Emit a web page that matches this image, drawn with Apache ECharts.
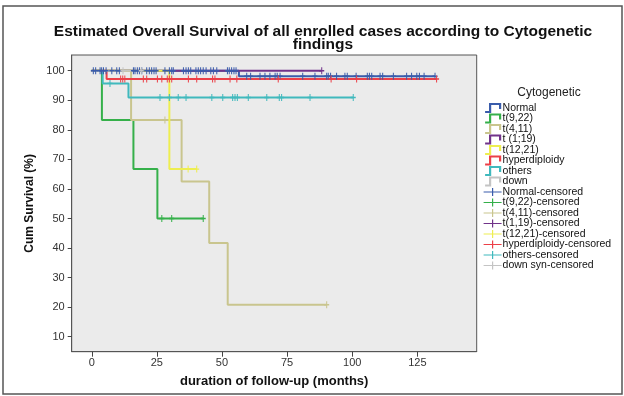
<!DOCTYPE html>
<html><head><meta charset="utf-8">
<script src="https://cdn.jsdelivr.net/npm/echarts@6/dist/echarts.min.js"></script>
<style>html,body{margin:0;padding:0;background:#fff}#c{width:624px;height:396px}</style>
</head><body><div id="c"></div>
<script>
// ---- data (months, survival %) ----
const groupNames = ["Normal","t(9,22)","t(4,11)","t (1;19)","t(12,21)","hyperdiploidy","others","down"];
const censorNames = ["Normal-censored","t(9,22)-censored","t(4,11)-censored","t(1,19)-censored","t(12,21)-censored","hyperdiploidy-censored","others-censored","down syn-censored"];
const xTicks = [0,25,50,75,100,125];
const yTicks = [10,20,30,40,50,60,70,80,90,100];

const normalTimes = [0, 56.5, 131.8];
const normalSurv  = [100, 98.1, 98.1];
const t922Times = [0, 3.9, 16.0, 25.2, 42.8];
const t922Surv  = [100, 83.3, 66.7, 50, 50];
const t411Times = [0, 15.1, 34.5, 45.1, 52.2, 90.2];
const t411Surv  = [100, 83.3, 62.5, 41.7, 20.8, 20.8];
const t119Times = [0, 88.3];
const t119Surv  = [100, 100];
const t1221Times = [0, 29.8, 40.3];
const t1221Surv  = [100, 66.7, 66.7];
const hyperTimes = [0, 5.7, 132.4];
const hyperSurv  = [100, 97.2, 97.2];
const othersTimes = [0, 4.2, 14.1, 100.4];
const othersSurv  = [100, 95.7, 90.9, 90.9];
const downTimes = [0, 19.0];
const downSurv  = [100, 100];

const normalCens = [0.6,1.5,3.2,3.8,4.5,5.5,7.7,9.6,10.6,16.0,16.6,17.5,18.3,19.2,21.1,22.1,23.0,23.9,24.7,28.1,29.8,30.7,31.3,35.2,36.2,37.1,38.0,40.0,40.9,41.8,42.8,43.9,45.7,46.7,48.0,52.1,52.8,53.7,54.6,55.4,59.5,61.0,64.6,66.5,68.4,70.4,71.2,72.3,81.0,85.7,90.2,90.8,91.7,94.0,97.2,98.1,101.5,105.8,106.6,107.5,110.7,111.7,115.8,120.9,122.8,124.8,125.8,127.6,131.8];
const t922Cens = [26.9, 30.7, 42.8];
const t411Cens = [28.1, 90.2];
const t119Cens = [88.3];
const t1221Cens = [37.0, 40.3];
const hyperCens = [11.1,11.9,12.7,19.8,21.1,25.2,26.9,29.0,29.8,30.7,37.1,40.3,46.4,47.3,53.1,55.7,71.6,91.9,101.7,132.4];
const othersCens = [7.0,26.2,29.8,33.2,36.2,46.1,50.3,54.1,55.0,55.9,60.1,67.2,72.0,72.9,83.8,100.4];
const downCens = [12.0, 19.0];

const colors = ["#3a5cab","#35b04a","#c9c58e","#71338a","#eeee50","#ec4048","#40b9bd","#c4c4c4"];

// ---- build ----
const allTimes = [normalTimes,t922Times,t411Times,t119Times,t1221Times,hyperTimes,othersTimes,downTimes];
const allSurv = [normalSurv,t922Surv,t411Surv,t119Surv,t1221Surv,hyperSurv,othersSurv,downSurv];
const allCens = [normalCens,t922Cens,t411Cens,t119Cens,t1221Cens,hyperCens,othersCens,downCens];

function survAt(T,S,t){let v=S[0];for(let i=0;i<T.length;i++){if(T[i]<=t+1e-9)v=S[i];}return v;}

const series = [];
groupNames.forEach((n,i)=>{
  series.push({name:n,type:'line',step:'end',symbol:'none',
    data:allTimes[i].map((t,k)=>[t,allSurv[i][k]]),
    lineStyle:{color:colors[i],width:2},itemStyle:{color:colors[i]},z:2,silent:true});
});
censorNames.forEach((n,i)=>{
  series.push({name:n,type:'scatter',symbol:'path://M5,0L5,10M3,5L7,5',symbolSize:[5,7],
    data:allCens[i].map(t=>[t,survAt(allTimes[i],allSurv[i],t)]),
    itemStyle:{color:'rgba(0,0,0,0)',borderColor:colors[i],borderWidth:1.2,opacity:1},z:3,silent:true});
});

const stepIcon = 'path://M0,9L5,9L5,1L15,1L15,6';
const plusIcon = 'path://M0,4L18,4M9,0L9,8';
const legendData = [];
groupNames.forEach((n,i)=>legendData.push({name:n,icon:stepIcon,itemStyle:{color:'rgba(0,0,0,0)',borderColor:colors[i],borderWidth:2.2}}));
censorNames.forEach((n,i)=>legendData.push({name:n,icon:plusIcon,itemStyle:{color:'rgba(0,0,0,0)',borderColor:colors[i],borderWidth:1.2}}));

const FONT = '"Liberation Sans", Arial, sans-serif';
const chart = echarts.init(document.getElementById('c'),null,{renderer:'canvas'});
chart.setOption({
  animation:false,
  backgroundColor:'#fff',
  textStyle:{fontFamily:FONT},
  title:[
    {text:'Estimated Overall Survival of all enrolled cases according to Cytogenetic\nfindings',
     left:318,top:20,textAlign:'center',
     textStyle:{fontFamily:FONT,fontSize:15.5,fontWeight:'bold',color:'#111',lineHeight:13}},
    {text:'Cytogenetic',left:544,top:82,textAlign:'center',
     textStyle:{fontFamily:FONT,fontSize:12,fontWeight:'normal',color:'#222'}}
  ],
  legend:{orient:'vertical',left:478,top:97.5,itemWidth:18,itemHeight:8,itemGap:-0.5,
    selectedMode:false,data:legendData,
    textStyle:{fontFamily:FONT,fontSize:10.5,color:'#111',lineHeight:10,padding:[0,0,0,-4]}},
  grid:{left:71.7,top:55,width:405,height:296.7,show:true,backgroundColor:'#ebebeb',borderColor:'#555',borderWidth:1},
  xAxis:{type:'value',min:-7.7,max:147.8,
    name:'duration of follow-up (months)',nameLocation:'middle',nameGap:23,
    nameTextStyle:{fontFamily:FONT,fontSize:13,fontWeight:'bold',color:'#111'},
    axisLine:{show:true,onZero:false,lineStyle:{color:'#555',width:1}},splitLine:{show:false},
    axisTick:{show:true,length:5,customValues:xTicks,lineStyle:{color:'#444'}},
    axisLabel:{customValues:xTicks,margin:6,fontSize:11,color:'#333',fontFamily:FONT}},
  yAxis:{type:'value',min:4.93,max:105.3,
    name:'Cum Survival (%)',nameLocation:'middle',nameGap:36,nameRotate:90,
    nameTextStyle:{fontFamily:FONT,fontSize:12,fontWeight:'bold',color:'#111'},
    axisLine:{show:true,onZero:false,lineStyle:{color:'#555',width:1}},splitLine:{show:false},
    axisTick:{show:true,length:4,customValues:yTicks,lineStyle:{color:'#444'}},
    axisLabel:{customValues:yTicks,margin:7,fontSize:11,color:'#333',fontFamily:FONT}},
  graphic:[{type:'rect',shape:{x:3,y:6,width:619,height:388},style:{fill:'none',stroke:'#555',lineWidth:1.5},silent:true}],
  series:series
});
</script></body></html>
